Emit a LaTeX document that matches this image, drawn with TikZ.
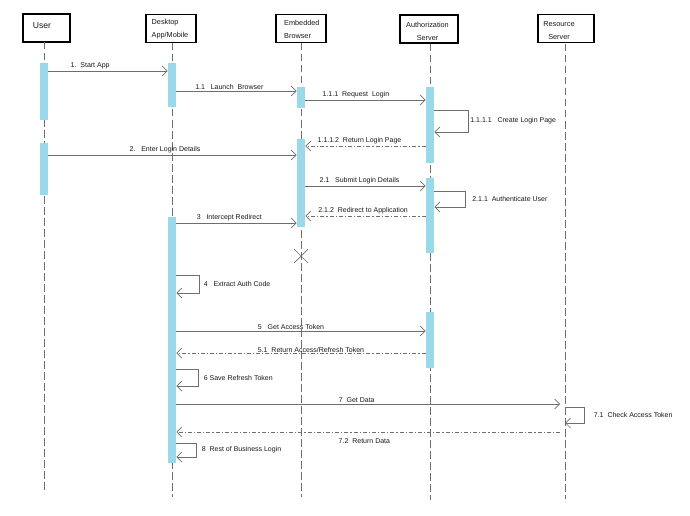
\documentclass[tikz,border=0pt]{standalone}
\usepackage{fontspec}
\setmainfont{Liberation Sans}
\usetikzlibrary{arrows.meta,shapes.misc}
\definecolor{actc}{RGB}{153,217,234}
\definecolor{lnc}{RGB}{110,110,110}
\definecolor{txc}{RGB}{25,25,25}
\begin{document}
\begin{tikzpicture}[x=1pt,y=-1pt,
  hdr/.style={draw=black,line width=1.6pt,minimum height=28pt,inner sep=0pt},
  htxt/.style={font=\fontsize{7.3}{13}\selectfont,text=txc,inner sep=0pt,align=left},
  life/.style={draw=lnc,line width=0.9pt,dash pattern=on 7.5pt off 3.5pt},
  actbar/.style={fill=actc,draw=none,minimum width=8.5pt,inner sep=0pt},
  msg/.style={draw=lnc,line width=0.8pt,-{Straight Barb[length=5pt,width=10pt,line width=0.7pt]}},
  ret/.style={msg,dash pattern=on 4pt off 2pt on 1.2pt off 2pt},
  lbl/.style={font=\fontsize{7}{8}\selectfont,text=txc,inner sep=1.5pt},
  xmark/.style={cross out,draw=lnc,line width=0.7pt,minimum size=13pt,inner sep=0pt}
]
\useasboundingbox (0,0) rectangle (690,516);

% headers
\node[hdr,minimum width=47pt] (hU) at (46.5,28) {};
\node[htxt,font=\fontsize{8.6}{10}\selectfont] (tU) at (42,25.5) {User};
\node[hdr,minimum width=50pt] (hD) at (171,28.5) {};
\node[htxt,anchor=west] (tD) at (151.5,29.5) {Desktop\\App/Mobile};
\node[hdr,minimum width=50pt] (hE) at (301,28.5) {};
\node[htxt,anchor=west] (tE) at (284,29.5) {Embedded\\Browser};
\node[hdr,minimum width=58pt] (hA) at (429,29) {};
\node[htxt,align=center] (tA) at (427.5,31.5) {Authorization\\Server};
\node[hdr,minimum width=56pt] (hR) at (566,28.5) {};
\node[htxt,align=center] (tR) at (559,30.5) {Resource\\Server};

% lifelines
\coordinate (uT) at (44,42);  \coordinate (uB) at (44,493);
\coordinate (dT) at (172,43); \coordinate (dB) at (172,497);
\coordinate (eT) at (301,43); \coordinate (eB) at (301,497);
\coordinate (aT) at (430,44); \coordinate (aB) at (430,500);
\coordinate (rT) at (565,44); \coordinate (rB) at (565,499);
\draw[life] (uT) -- (uB);
\draw[life] (dT) -- (dB);
\draw[life] (eT) -- (eB);
\draw[life] (aT) -- (aB);
\draw[life] (rT) -- (rB);

% activation bars
\node[actbar,minimum height=57pt] (u1) at (44,91.5) {};
\node[actbar,minimum height=52pt] (u2) at (44,169) {};
\node[actbar,minimum height=44pt] (d1) at (172,85) {};
\node[actbar,minimum height=246pt] (d2) at (172,340) {};
\node[actbar,minimum height=21pt] (e1) at (301,97.5) {};
\node[actbar,minimum height=88pt] (e2) at (301,183) {};
\node[actbar,minimum height=76pt] (a1) at (430,125) {};
\node[actbar,minimum height=75pt] (a2) at (430,215.5) {};
\node[actbar,minimum height=56pt] (a3) at (430,340) {};
\coordinate (rL) at (560,404);

% destruction mark
\node[xmark] (kill) at (301,256) {};

% messages
\draw[msg] (u1.east |- 0,71) -- node[lbl,above,pos=0.35] {1.\ \ Start App} (d1.west |- 0,71);
\draw[msg] (d1.east |- 0,91) -- node[lbl,above,pos=0.44] {1.1\ \ \ Launch\ \ Browser} (e1.west |- 0,91);
\draw[msg] (e1.east |- 0,100) -- node[lbl,above,pos=0.42] {1.1.1\ \ Request\ \ Login} (a1.west |- 0,100);
\draw[msg] (a1.east |- 0,110) -- ++(34,0) |- node[lbl,right,pos=0.25] {1.1.1.1\ \ \ Create Login Page} (a1.east |- 0,132);
\draw[ret] (a1.west |- 0,146) -- node[lbl,above,pos=0.55] {1.1.1.2\ \ Return Login Page} (e2.east |- 0,146);
\draw[msg] (u2.east |- 0,155) -- node[lbl,above,pos=0.47] {2.\ \ \ Enter Login Details} (e2.west |- 0,155);
\draw[msg] (e2.east |- 0,186) -- node[lbl,above,pos=0.45] {2.1\ \ \ Submit Login Details} (a2.west |- 0,186);
\draw[msg] (a2.east |- 0,191) -- ++(31,0) |- node[lbl,right,pos=0.25,xshift=5pt] {2.1.1\ \ Authenticate User} (a2.east |- 0,207);
\draw[ret] (a2.west |- 0,216) -- node[lbl,above,pos=0.52] {2.1.2\ \ Redirect to Application} (e2.east |- 0,216);
\draw[msg] (d2.east |- 0,223) -- node[lbl,above,pos=0.44] {3\ \ \ Intercept Redirect} (e2.west |- 0,223);
\draw[msg] (d2.east |- 0,275) -- ++(22.5,0) |- node[lbl,right,pos=0.25,xshift=3pt] {4\ \ \ Extract Auth Code} (d2.east |- 0,293);
\draw[msg] (d2.east |- 0,331) -- node[lbl,above,pos=0.46] {5\ \ \ Get Access Token} (a3.west |- 0,331);
\draw[ret] (a3.west |- 0,353) -- node[lbl,above,pos=0.46,inner sep=0.5pt] {5.1\ \ Return Access/Refresh Token} (d2.east |- 0,353);
\draw[msg] (d2.east |- 0,369) -- ++(21.5,0) |- node[lbl,right,pos=0.25,xshift=4pt] {6 Save Refresh Token} (d2.east |- 0,386);
\draw[msg] (d2.east |- 0,404) -- node[lbl,above,pos=0.47] {7\ \ Get Data} (rL);
\draw[msg] (rT |- 0,407) -- ++(19,0) |- node[lbl,right,pos=0.25,xshift=8pt] {7.1\ \ Check Access Token} (rT |- 0,423);
\draw[ret] (rL |- 0,432) -- node[lbl,below,pos=0.51,yshift=-4.5pt] {7.2\ \ Return Data} (d2.east |- 0,432);
\draw[msg] (d2.east |- 0,443) -- ++(19.5,0) |- node[lbl,right,pos=0.25,xshift=4pt] {8\ \ Rest of Business Login} (d2.east |- 0,457);
\end{tikzpicture}
\end{document}
